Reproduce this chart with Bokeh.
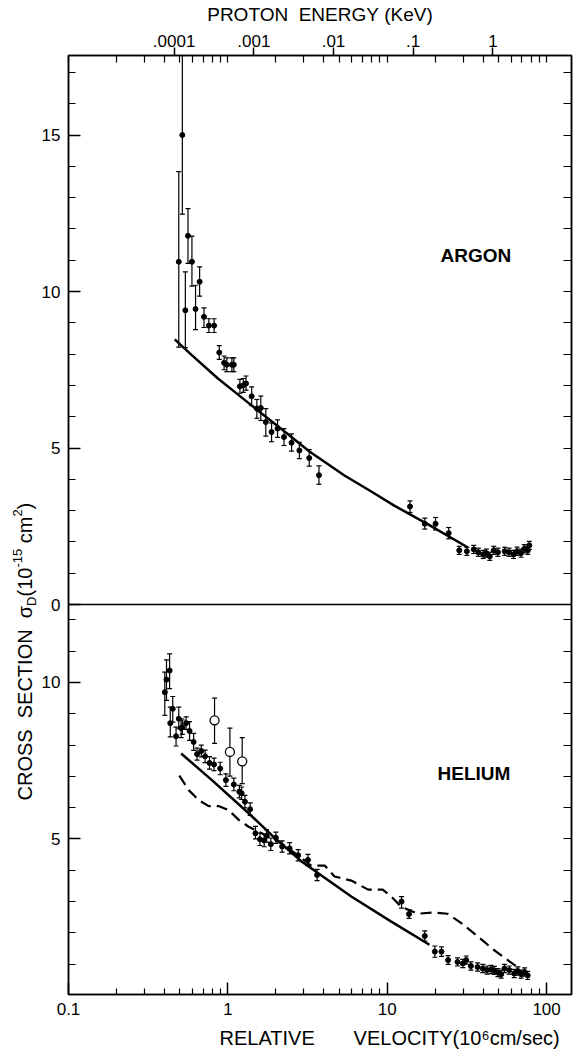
import math
from bokeh.plotting import figure
from bokeh.layouts import row
from bokeh.models import Range1d, LinearAxis, LogAxis, FixedTicker, Span, Label, Title
from bokeh.core.properties import value
from bokeh.embed import file_html
from bokeh.resources import INLINE

# ---------------- data ----------------
# ARGON: relative velocity (1e6 cm/s), cross section (1e-15 cm^2), error bar ends
ar_v = [0.492, 0.518, 0.541, 0.562, 0.595, 0.627, 0.665, 0.708, 0.760, 0.820,
        0.883, 0.947, 0.985, 1.06, 1.09, 1.19, 1.25, 1.30, 1.41, 1.52,
        1.61, 1.73, 1.88, 2.05, 2.25, 2.51, 2.81, 3.24, 3.73, 13.9,
        17.2, 20.1, 24.3, 28.3, 31.6, 34.9, 37.3, 40.0, 41.9, 44.0,
        46.6, 49.5, 54.6, 58.1, 62.0, 65.2, 69.1, 72.4, 76.2, 77.9]
ar_y = [10.95, 15.0, 9.40, 11.78, 10.95, 9.44, 10.31, 9.19, 8.91, 8.91,
        8.05, 7.72, 7.66, 7.66, 7.66, 6.97, 7.00, 7.06, 6.65, 6.26,
        6.28, 5.83, 5.51, 5.62, 5.35, 5.17, 4.92, 4.68, 4.13, 3.13,
        2.58, 2.58, 2.28, 1.73, 1.70, 1.76, 1.67, 1.60, 1.64, 1.54,
        1.73, 1.67, 1.70, 1.67, 1.60, 1.70, 1.64, 1.78, 1.73, 1.89]
ar_hi = [13.83, 18.5, 10.63, 12.65, 11.77, 10.20, 10.79, 9.48, 9.13, 9.13,
         8.27, 7.94, 7.88, 7.88, 7.88, 7.19, 7.22, 7.30, 6.95, 6.55,
         6.66, 6.26, 5.80, 5.90, 5.62, 5.45, 5.18, 4.95, 4.43, 3.31,
         2.76, 2.78, 2.46, 1.86, 1.83, 1.89, 1.80, 1.73, 1.77, 1.67,
         1.86, 1.80, 1.83, 1.80, 1.73, 1.83, 1.77, 1.91, 1.86, 2.02]
ar_lo = [8.22, 12.47, 8.21, 10.90, 10.17, 8.78, 9.85, 8.85, 8.69, 8.69,
         7.83, 7.50, 7.44, 7.44, 7.44, 6.75, 6.78, 6.85, 6.35, 5.95,
         5.88, 5.38, 5.20, 5.34, 5.08, 4.90, 4.66, 4.42, 3.84, 2.94,
         2.41, 2.38, 2.10, 1.60, 1.57, 1.63, 1.54, 1.47, 1.51, 1.41,
         1.60, 1.54, 1.57, 1.54, 1.47, 1.57, 1.51, 1.65, 1.60, 1.76]
# ARGON theory curve
ar_curve_v = [0.464, 0.596, 0.866, 1.224, 1.63, 2.30, 3.25, 5.39, 7.94, 11.06, 18.04, 32.1]
ar_curve_y = [8.47, 7.96, 7.22, 6.61, 6.10, 5.50, 4.89, 4.12, 3.61, 3.16, 2.56, 1.82]

# HELIUM filled points
he_v = [0.402, 0.412, 0.431, 0.435, 0.451, 0.473, 0.492, 0.509, 0.518, 0.547,
        0.575, 0.610, 0.641, 0.681, 0.720, 0.767, 0.819, 0.895, 0.972, 1.09,
        1.18, 1.22, 1.28, 1.38, 1.49, 1.59, 1.69, 1.75, 1.86, 2.00,
        2.19, 2.44, 2.76, 3.18, 3.63, 12.3, 13.7, 17.2, 19.9, 21.9,
        24.1, 27.6, 29.8, 31.3, 33.5, 36.9, 39.8, 42.3, 44.8, 47.0,
        49.5, 51.9, 54.4, 58.3, 62.6, 66.0, 69.2, 72.8, 76.1]
he_y = [9.69, 10.09, 10.38, 8.70, 9.16, 8.28, 8.84, 8.54, 8.57, 8.70,
        8.45, 8.10, 7.71, 7.81, 7.64, 7.43, 7.38, 7.25, 6.88, 6.74,
        6.51, 6.46, 6.19, 5.95, 5.18, 4.99, 4.95, 5.10, 4.83, 5.04,
        4.76, 4.70, 4.48, 4.33, 3.85, 3.00, 2.60, 1.90, 1.40, 1.40,
        1.13, 1.07, 1.02, 1.13, 0.94, 0.91, 0.86, 0.81, 0.83, 0.80,
        0.73, 0.68, 0.86, 0.81, 0.70, 0.78, 0.68, 0.75, 0.64]
he_hi = [10.33, 10.72, 10.91, 9.21, 9.55, 8.57, 9.21, 8.84, 8.80, 8.90,
         8.75, 8.37, 7.90, 8.00, 7.84, 7.63, 7.58, 7.45, 7.08, 6.94,
         6.71, 6.66, 6.39, 6.15, 5.40, 5.19, 5.15, 5.30, 5.03, 5.22,
         4.94, 4.88, 4.66, 4.51, 4.03, 3.16, 2.74, 2.06, 1.58, 1.55,
         1.27, 1.20, 1.15, 1.26, 1.07, 1.04, 0.99, 0.94, 0.96, 0.93,
         0.86, 0.81, 0.99, 0.94, 0.83, 0.91, 0.81, 0.88, 0.77]
he_lo = [8.95, 9.43, 9.80, 8.26, 8.73, 7.97, 8.52, 8.24, 8.34, 8.50,
         8.15, 7.83, 7.52, 7.62, 7.44, 7.23, 7.18, 7.05, 6.68, 6.54,
         6.31, 6.26, 5.99, 5.75, 5.00, 4.79, 4.75, 4.90, 4.63, 4.86,
         4.58, 4.52, 4.30, 4.15, 3.67, 2.79, 2.46, 1.74, 1.22, 1.25,
         0.99, 0.94, 0.89, 1.00, 0.81, 0.78, 0.73, 0.68, 0.70, 0.67,
         0.60, 0.55, 0.73, 0.68, 0.57, 0.65, 0.55, 0.62, 0.51]
# HELIUM open circles
he_open_v = [0.825, 1.03, 1.23]
he_open_y = [8.79, 7.78, 7.48]
he_open_hi = [9.50, 8.54, 8.24]
he_open_lo = [8.05, 7.01, 6.77]
# HELIUM solid and dashed curves
he_curve_v = [0.509, 0.794, 1.35, 1.98, 2.90, 5.95, 10.6, 18.4]
he_curve_y = [7.73, 6.88, 5.82, 5.02, 4.28, 3.16, 2.36, 1.62]
he_dash_v = [0.496, 0.568, 0.656, 0.758, 0.874, 1.01, 1.17, 1.35, 1.63, 2.17,
             2.90, 3.34, 4.05, 4.67, 5.95, 7.59, 9.37, 10.6, 12.2, 15.5,
             19.7, 23.9, 29.0, 36.9, 46.5, 56.3, 68.5]
he_dash_y = [7.02, 6.56, 6.24, 6.05, 6.05, 5.92, 5.61, 5.39, 5.18, 4.86,
             4.39, 4.14, 4.15, 3.80, 3.67, 3.38, 3.38, 3.16, 2.84, 2.61,
             2.65, 2.61, 2.32, 1.89, 1.46, 1.15, 0.83]

# axis ticks
vel_major = [0.1, 1, 10, 100]
vel_major_labels = ["0.1", "1", "10", "100"]
vel_minor = [k * 10.0 ** e for e in (-1, 0, 1) for k in range(2, 10)]
energy_ticks = [1e-4, 1e-3, 1e-2, 1e-1, 1.0]
energy_labels = [".0001", ".001", ".01", ".1", "1"]
v_at_E0 = 0.46  # relative velocity that corresponds to .0001 KeV
he_major = [5, 10]
he_minor = [1, 2, 3, 4, 6, 7, 8, 9, 11, 12]
ar_major = [0, 5, 10, 15]
ar_minor = [1, 2, 3, 4, 6, 7, 8, 9, 11, 12, 13, 14, 16, 17]

NB = "\u00a0"
x_title = "RELATIVE" + NB * 7 + "VELOCITY(10\u2076cm/sec)"
top_title = "PROTON" + NB * 2 + "ENERGY" + NB + "(KeV)"
# y label pieces: (text, font size px, shift across the line px)
y_label_parts = [("CROSS" + NB * 2 + "SECTION" + NB * 2 + "\u03c3", 20, 0),
                 ("D", 13, 7),
                 ("(10", 20, 0),
                 ("-15", 13, -7),
                 (NB + "cm", 20, 0),
                 ("2", 13, -7),
                 (")", 20, 0)]

# ---------------- layout ----------------
FONT = "Liberation Sans"
HE_RANGE = (0.03, 30.03)
D = 12.49  # helium value at the panel divider (= argon zero)
LW = 38                  # width of the strip that carries the y label
L, R, T, B = 28, 3, 55, 66
W, H = 574 - LW, 1060
X0, X1 = 0.1, 143.3

p = figure(width=W, height=H, x_axis_type="log",
           x_range=Range1d(X0, X1), y_range=Range1d(*HE_RANGE),
           output_backend="svg", toolbar_location=None,
           min_border_left=L, min_border_right=R, min_border_top=T, min_border_bottom=B)
p.extra_y_ranges = {"argon": Range1d(HE_RANGE[0] - D, HE_RANGE[1] - D)}
p.xgrid.visible = False
p.ygrid.visible = False
p.outline_line_color = "black"
p.outline_line_width = 1.5
p.background_fill_color = "white"
p.border_fill_color = "white"


def style_axis(ax, maj_in, min_in, maj_out=0, min_out=0):
    ax.axis_line_width = 1.5
    ax.axis_line_color = "black"
    ax.major_tick_line_width = 1.5
    ax.minor_tick_line_width = 1.2
    ax.major_tick_line_color = "black"
    ax.minor_tick_line_color = "black"
    ax.major_tick_in = maj_in
    ax.minor_tick_in = min_in
    ax.major_tick_out = maj_out
    ax.minor_tick_out = min_out
    ax.major_label_text_font = FONT
    ax.major_label_text_font_size = "17px"
    ax.major_label_text_color = "black"
    ax.axis_label_text_font = FONT
    ax.axis_label_text_font_style = "normal"
    ax.axis_label_text_color = "black"


# bottom axis
bx = p.below[0]
bx.ticker = FixedTicker(ticks=vel_major, minor_ticks=vel_minor)
bx.major_label_overrides = dict(zip(vel_major, vel_major_labels))
style_axis(bx, 12, 6)
bx.major_label_standoff = 8

# top axis (proton energy)
e_pos = [v_at_E0 * math.sqrt(e / energy_ticks[0]) for e in energy_ticks]
tx = LogAxis(ticker=FixedTicker(ticks=e_pos, minor_ticks=vel_minor + vel_major),
             major_label_overrides=dict(zip(e_pos, energy_labels)),
             axis_label=top_title)
style_axis(tx, 0, 7, maj_out=8)
tx.major_label_standoff = 1
tx.axis_label_standoff = 7
tx.axis_label_text_font_size = "19px"
p.add_layout(tx, "above")

# left / right axes (two panels)
y_major = he_major + [D + a for a in ar_major]
y_minor = he_minor + [D + a for a in ar_minor]
y_labels = {h: str(h) for h in he_major}
y_labels.update({D + a: str(a) for a in ar_major})
ly = p.left[0]
ly.ticker = FixedTicker(ticks=y_major, minor_ticks=y_minor)
ly.major_label_overrides = y_labels
style_axis(ly, 12, 7)
ly.major_label_standoff = 8

ry = LinearAxis(ticker=FixedTicker(ticks=[], minor_ticks=sorted(y_major + y_minor)))
style_axis(ry, 0, 8)
p.add_layout(ry, "right")

p.add_layout(Span(location=D, dimension="width", line_color="black", line_width=1.5))

# x axis title (offset to the right as in the original)
p.add_layout(Title(text=x_title, align="left", offset=151, text_font=FONT,
                   text_font_size="20px", text_font_style="normal",
                   text_color="black", standoff=15), "below")

# ---------------- argon ----------------
p.segment(ar_v, ar_lo, ar_v, ar_hi, line_color="black", line_width=1.2, y_range_name="argon")
p.scatter(ar_v + ar_v, ar_hi + ar_lo, marker="dash", size=5, line_color="black",
          line_width=1.2, y_range_name="argon")
p.scatter(ar_v, ar_y, size=5, color="black", y_range_name="argon")
p.line(ar_curve_v, ar_curve_y, line_color="black", line_width=2.5, y_range_name="argon")

# ---------------- helium ----------------
p.segment(he_v, he_lo, he_v, he_hi, line_color="black", line_width=1.2)
p.scatter(he_v + he_v, he_hi + he_lo, marker="dash", size=5, line_color="black", line_width=1.2)
p.scatter(he_v, he_y, size=5, color="black")
p.segment(he_open_v, he_open_lo, he_open_v, he_open_hi, line_color="black", line_width=1.2)
p.scatter(he_open_v + he_open_v, he_open_hi + he_open_lo, marker="dash", size=5,
          line_color="black", line_width=1.2)
p.scatter(he_open_v, he_open_y, size=9, fill_color="white", line_color="black", line_width=1.3)
p.line(he_curve_v, he_curve_y, line_color="black", line_width=2.5)
p.line(he_dash_v, he_dash_y, line_color="black", line_width=2.2, line_dash="11 6")

p.add_layout(Label(x=36, y=11.15, y_range_name="argon", text="ARGON", text_font=FONT,
                   text_font_size="19px", text_font_style="bold", text_align="center",
                   text_baseline="middle", text_color="black"))
p.add_layout(Label(x=35, y=7.08, text="HELIUM", text_font=FONT,
                   text_font_size="19px", text_font_style="bold", text_align="center",
                   text_baseline="middle", text_color="black"))

# ---------------- y label strip (page pixel coordinates, y measured from the bottom) ----------------
# frame of the strip is aligned with the main frame (rows align plot frames)
q = figure(width=LW, height=H, x_range=Range1d(0, LW), y_range=Range1d(B, H - T),
           output_backend="svg", toolbar_location=None, title=None,
           x_axis_location=None, y_axis_location=None,
           min_border_left=0, min_border_right=0, min_border_top=T, min_border_bottom=B)
q.xgrid.visible = False
q.ygrid.visible = False
q.outline_line_color = None
q.background_fill_color = "white"
q.border_fill_color = "white"

CW = {"C": .722, "R": .722, "O": .778, "S": .667, "E": .667, "T": .611, "I": .278,
      "N": .722, NB: .278, "\u03c3": .617, "D": .722, "(": .333, ")": .333, "1": .556,
      "0": .556, "5": .556, "-": .333, "c": .5, "m": .833, "2": .556}
start_py = 800       # bottom end of the vertical label, from the top of the page
center_x = 24
pos = H - start_py
for text, size, shift in y_label_parts:
    q.text(x=[center_x + shift], y=[pos], text=[text], angle=math.pi / 2,
           text_align="left", text_baseline="middle", text_font=value(FONT),
           text_font_size=value(f"{size}px"), text_color="black")
    pos += sum(CW.get(ch, 0.6) for ch in text) * size

layout = row(q, p)
open("out.html", "w").write(file_html(layout, INLINE))
